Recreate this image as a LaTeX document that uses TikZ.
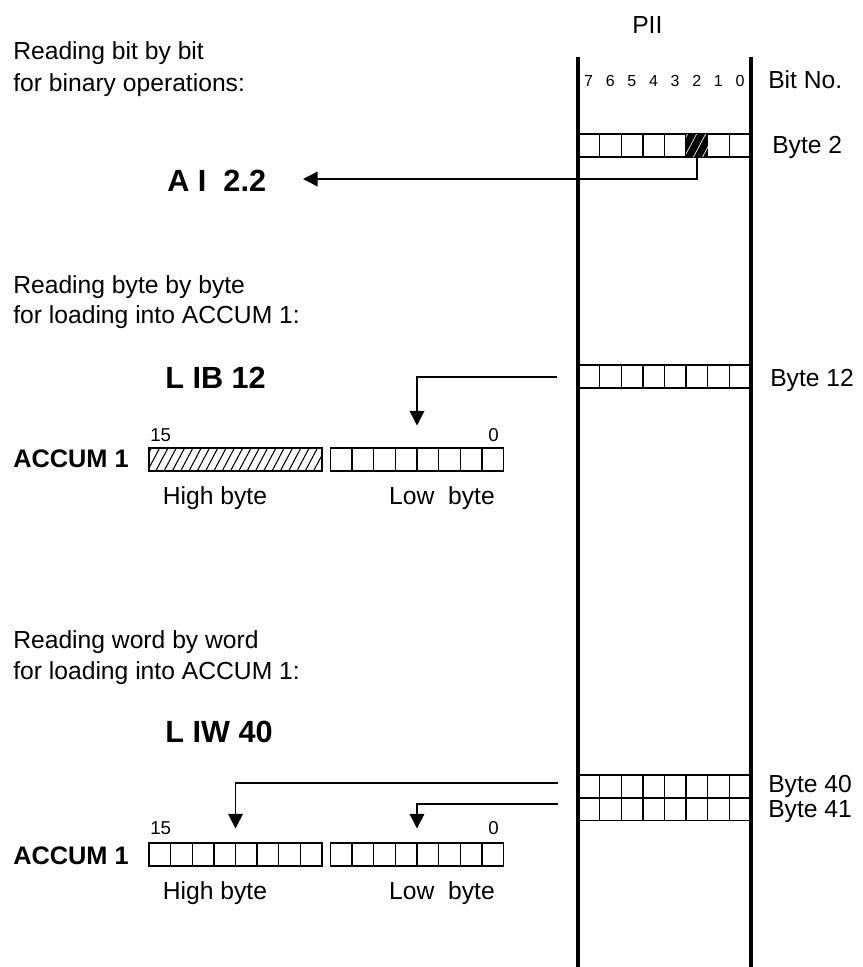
\documentclass[tikz,border=0pt]{standalone}
\usepackage{fontspec}
\setmainfont{Liberation Sans}
\usepackage{tikz}
\usetikzlibrary{calc,arrows.meta,patterns.meta}
\tikzset{
  piibase/.style={line cap=butt, line join=miter},
  piiwall/.style={line width=3pt},
  piirow/.style={draw,line width=1.1pt,minimum width=129.75pt,minimum height=17pt,inner sep=0pt,outer sep=0pt},
  piidiv/.style={line width=1.1pt},
  piiline/.style={line width=1.1pt,-{Triangle[length=11pt,width=11pt]}},
  piitext/.style={font=\fontsize{18.5}{22}\selectfont,anchor=base west,inner sep=0pt},
  piicmd/.style={font=\fontsize{23}{27}\selectfont\bfseries,anchor=base west,inner sep=0pt},
  piiacc/.style={font=\fontsize{19}{23}\selectfont\bfseries,anchor=base west,inner sep=0pt},
  piinum/.style={font=\fontsize{12}{14}\selectfont,inner sep=0pt},
  piihatch/.style={pattern={Lines[angle=62,distance=5.5pt,line width=.8pt]}}
}

\begin{document}
\begin{tikzpicture}[piibase,x=0.75pt,y=-0.75pt]
\useasboundingbox (0,0) rectangle (863,967);
% process image of inputs
\draw[piiwall] (578,57)--(578,967);
\draw[piiwall] (751,57)--(751,967);
\node[piitext] (pii) at (632,33) {PII};
\foreach \b in {0,...,7}
  \node[piinum] (bit\b) at ({740-\b*21.625},81) {\b};
\node[piitext] (bitno) at (768,88) {Bit No.};

% byte rows of the PII
\node[piirow] (b2) at (664.5,145.5) {};
\node[piirow] (b12) at (664.5,376.5) {};
\node[piirow] (b40) at (664.5,786.5) {};
\node[piirow] (b41) at (664.5,809) {};
\foreach \r in {b2,b12,b40,b41}
  \foreach \i in {1,...,7}
    \draw[piidiv] ($(\r.north west)!\i/8!(\r.north east)$)--($(\r.south west)!\i/8!(\r.south east)$);
\fill[black] ($(b2.north west)!5/8!(b2.north east)$) rectangle ($(b2.south west)!6/8!(b2.south east)$);
\fill[pattern={Lines[angle=62,distance=6pt,line width=.5pt]},pattern color=white] ($(b2.north west)!5/8!(b2.north east)$) rectangle ($(b2.south west)!6/8!(b2.south east)$);
\node[piitext] (lb2) at (772,153) {Byte 2};
\node[piitext] (lb12) at (770,386) {Byte 12};
\node[piitext] (lb40) at (768,792) {Byte 40};
\node[piitext] (lb41) at (768,817) {Byte 41};

% bit by bit
\node[piitext] (t1a) at (13,59) {Reading bit by bit};
\node[piitext] (t1b) at (13,91) {for binary operations:};
\node[piicmd] (ai) at (167,191) {A I\ \ 2.2};
\coordinate (ai-in) at (303,179);
\coordinate (b2-bit2) at ($(b2.south west)!5.5/8!(b2.south east)$);
\draw[piiline] (b2-bit2) |- (ai-in);

% byte by byte
\node[piitext] (t2a) at (13,293) {Reading byte by byte};
\node[piitext] (t2b) at (13,323) {for loading into ACCUM 1:};
\node[piicmd] (lib) at (165,388) {L IB 12};
\node[piiacc] (acc1) at (13,467) {ACCUM 1};
\node[piirow,piihatch] (hi1) at (235.5,459.5) {};
\node[piirow] (lo1) at (417,459.5) {};
\foreach \i in {1,...,7}
  \draw[piidiv] ($(lo1.north west)!\i/8!(lo1.north east)$)--($(lo1.south west)!\i/8!(lo1.south east)$);
\node[piinum,font=\fontsize{14}{16}\selectfont,anchor=west] (n15a) at (150,435) {15};
\node[piinum,font=\fontsize{14}{16}\selectfont,anchor=east] (n0a) at (499,435) {0};
\node[piitext,anchor=base] (hb1) at (215,504) {High byte};
\node[piitext,anchor=base] (lw1) at (442,504) {Low\ \ byte};
\coordinate (b12-out) at (557,377);
\draw[piiline] (b12-out) -| ([yshift=17pt]lo1.north);

% word by word
\node[piitext] (t3a) at (13,648) {Reading word by word};
\node[piitext] (t3b) at (13,679) {for loading into ACCUM 1:};
\node[piicmd] (liw) at (165,742) {L IW 40};
\node[piiacc] (acc2) at (13,864) {ACCUM 1};
\node[piirow] (hi2) at (235.5,854.5) {};
\node[piirow] (lo2) at (417,854.5) {};
\foreach \r in {hi2,lo2}
  \foreach \i in {1,...,7}
    \draw[piidiv] ($(\r.north west)!\i/8!(\r.north east)$)--($(\r.south west)!\i/8!(\r.south east)$);
\node[piinum,font=\fontsize{14}{16}\selectfont,anchor=west] (n15b) at (150,828.5) {15};
\node[piinum,font=\fontsize{14}{16}\selectfont,anchor=east] (n0b) at (499,828.5) {0};
\node[piitext,anchor=base] (hb2) at (215,899) {High byte};
\node[piitext,anchor=base] (lw2) at (442,899) {Low\ \ byte};
\coordinate (b40-out) at (558,783);
\coordinate (b41-out) at (558,804);
\draw[piiline] (b40-out) -| ([yshift=11pt]hi2.north);
\draw[piiline] (b41-out) -| ([yshift=11pt]lo2.north);
\end{tikzpicture}
\end{document}
